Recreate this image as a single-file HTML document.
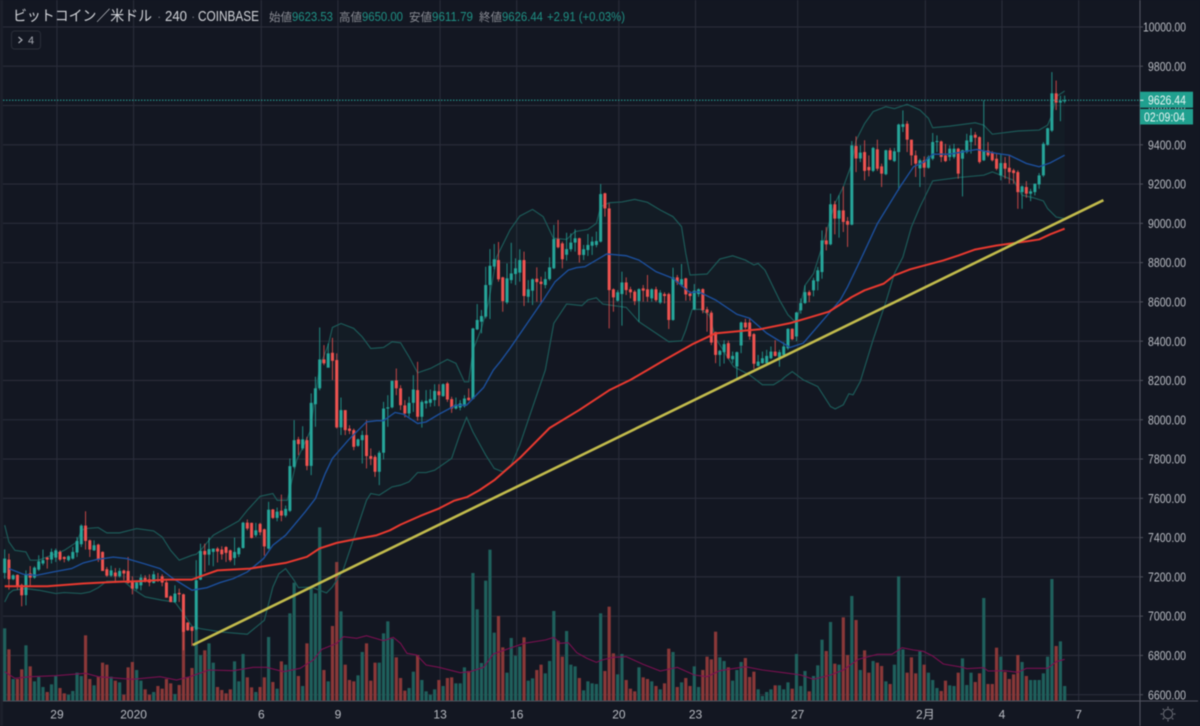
<!DOCTYPE html>
<html lang="ja">
<head>
<meta charset="utf-8">
<title>ビットコイン／米ドル 240 COINBASE</title>
<style>
html,body{margin:0;padding:0;background:#131722;width:1200px;height:726px;overflow:hidden}
svg{display:block;filter:blur(.4px)}
text{font-family:"Liberation Sans","Noto Sans CJK JP",sans-serif}
</style>
</head>
<body>
<svg id="chart" xmlns="http://www.w3.org/2000/svg" width="1200" height="726" viewBox="0 0 1200 726">
<rect x="0" y="0" width="1200" height="726" fill="#131722"/>
<rect x="0" y="0" width="3" height="726" fill="#1c202b"/>
<g id="grid"></g>
<g id="volumes"></g>
<g id="bands"></g>
<g id="candles"></g>
<g id="lines"></g>
<g id="axes"></g>
<g>
<text x="13" y="21" font-size="14.5" fill="#d2d4d9" textLength="139" lengthAdjust="spacingAndGlyphs">ビットコイン／米ドル</text>
<text x="157" y="21" font-size="13" fill="#6d7079">·</text>
<text x="165" y="21" font-size="14.5" fill="#d2d4d9" textLength="22" lengthAdjust="spacingAndGlyphs">240</text>
<text x="191" y="21" font-size="13" fill="#6d7079">·</text>
<text x="198" y="21" font-size="14.5" fill="#d2d4d9" textLength="61" lengthAdjust="spacingAndGlyphs">COINBASE</text>
<text x="269" y="21" font-size="11.5" fill="#8b8d95">始値</text>
<text x="292" y="21" font-size="13" fill="#1f9084" textLength="41" lengthAdjust="spacingAndGlyphs">9623.53</text>
<text x="339" y="21" font-size="11.5" fill="#8b8d95">高値</text>
<text x="362" y="21" font-size="13" fill="#1f9084" textLength="41" lengthAdjust="spacingAndGlyphs">9650.00</text>
<text x="409" y="21" font-size="11.5" fill="#8b8d95">安値</text>
<text x="432" y="21" font-size="13" fill="#1f9084" textLength="41" lengthAdjust="spacingAndGlyphs">9611.79</text>
<text x="479" y="21" font-size="11.5" fill="#8b8d95">終値</text>
<text x="502" y="21" font-size="13" fill="#1f9084" textLength="41" lengthAdjust="spacingAndGlyphs">9626.44</text>
<text x="547" y="21" font-size="13" fill="#1f9084" textLength="78" lengthAdjust="spacingAndGlyphs">+2.91 (+0.03%)</text>
</g>
<g>
<rect x="11.5" y="31" width="29" height="18" rx="3" fill="#131722" stroke="#2a2e39"/>
<path d="M18.5 37l3.5 3-3.5 3" fill="none" stroke="#a8abb3" stroke-width="1.2"/>
<text x="28" y="44" font-size="11" fill="#a8abb3">4</text>
</g>
<g stroke="#62656e" fill="none" stroke-width="1.2">
<circle cx="1168" cy="714" r="4.6"/>
<path d="M1168 706.5v2M1168 719.5v2M1160.5 714h2M1173.5 714h2M1162.7 708.7l1.4 1.4M1171.9 717.9l1.4 1.4M1162.7 719.3l1.4-1.4M1171.9 710.1l1.4-1.4"/>
</g>
</svg>
<script>
// ---- chart data ----
var opens = [
7220,7288,7188,7210,7159,7107,7218,7196,7237,7268,
7298,7288,7298,7327,7301,7285,7293,7324,7366,7461,
7386,7335,7364,7327,7239,7206,7222,7203,7232,7230,
7178,7140,7157,7195,7188,7169,7188,7203,7172,7101,
7072,7118,7111,6967,6945,6932,7186,7332,7313,7327,
7344,7339,7352,7335,7296,7315,7347,7476,7475,7412,
7470,7442,7344,7543,7500,7537,7512,7536,7760,7900,
7854,7896,7765,8079,8160,8307,8265,8341,8304,7961,
8049,7955,7947,7867,7896,7922,7815,7811,7735,7832,
8057,8063,8200,8160,8073,8032,8086,8151,8015,8083,
8086,8100,8145,8120,8185,8105,8057,8062,8069,8112,
8106,8460,8499,8525,8686,8780,8813,8725,8597,8711,
8742,8749,8813,8626,8657,8718,8703,8686,8716,8771,
8920,8898,8840,8868,8902,8924,8839,8864,8886,8890,
8907,9153,9076,8664,8606,8640,8699,8664,8652,8604,
8669,8664,8618,8664,8596,8640,8640,8508,8725,8686,
8720,8643,8562,8640,8665,8562,8545,8446,8330,8344,
8390,8308,8271,8378,8495,8495,8436,8274,8288,8288,
8313,8347,8318,8330,8364,8463,8424,8557,8594,8650,
8659,8705,8752,8913,8893,9097,9024,9066,9012,8993,
9394,9330,9363,9287,9267,9377,9290,9250,9372,9317,
9363,9491,9507,9426,9346,9280,9321,9283,9329,9414,
9417,9346,9338,9338,9380,9329,9363,9414,9451,9439,
9321,9371,9360,9329,9244,9307,9283,9270,9261,9159,
9185,9151,9159,9198,9244,9400,9472,9662,9615,9623.53];
var highs = [
7340,7318,7213,7213,7165,7233,7255,7254,7310,7339,
7302,7344,7344,7335,7305,7310,7352,7403,7468,7534,
7390,7386,7369,7330,7250,7257,7245,7245,7237,7301,
7203,7179,7213,7208,7213,7230,7220,7213,7183,7106,
7157,7140,7115,6970,6948,7285,7369,7369,7400,7344,
7352,7356,7356,7339,7400,7352,7480,7492,7476,7475,
7475,7446,7582,7546,7553,7619,7563,7803,7998,7913,
7967,7913,8134,8219,8470,8380,8388,8417,8338,8113,
8049,7972,7955,7904,7944,7998,7854,7820,7842,8091,
8125,8200,8261,8176,8100,8117,8227,8295,8100,8151,
8154,8181,8181,8185,8193,8117,8113,8100,8125,8159,
8468,8589,8559,8779,8869,8895,8905,8728,8796,8901,
8822,8868,8856,8711,8720,8776,8728,8754,8827,8992,
9017,8907,8952,8949,8970,8927,8890,8946,8932,8958,
9200,9156,9102,8669,8660,8754,8725,8677,8660,8669,
8686,8737,8669,8677,8660,8649,8647,8774,8737,8793,
8723,8655,8691,8669,8669,8575,8555,8449,8356,8405,
8403,8347,8347,8500,8514,8514,8441,8330,8347,8356,
8373,8405,8356,8395,8466,8466,8550,8618,8684,8659,
8723,8778,8964,8981,9151,9114,9143,9188,9032,9419,
9443,9397,9423,9346,9389,9426,9304,9375,9384,9384,
9508,9575,9521,9426,9371,9329,9341,9346,9460,9448,
9422,9405,9397,9405,9385,9375,9456,9485,9465,9443,
9626,9414,9368,9354,9354,9338,9346,9278,9270,9193,
9215,9176,9202,9256,9414,9487,9770,9727,9650,9650];
var lows = [
7190,7135,7183,7135,7050,7055,7150,7190,7230,7259,
7242,7268,7276,7281,7274,7278,7288,7301,7352,7339,
7301,7332,7276,7230,7200,7200,7169,7196,7183,7166,
7111,7132,7132,7171,7152,7166,7174,7152,7094,7070,
7067,7072,6826,6925,6848,6928,7183,7225,7259,7254,
7273,7288,7276,7276,7259,7301,7344,7437,7395,7403,
7412,7308,7339,7495,7483,7483,7503,7530,7752,7820,
7845,7743,7718,7964,8150,8278,8270,8202,7955,7922,
7922,7927,7845,7862,7777,7752,7769,7709,7667,7798,
7964,8058,8125,8049,8012,8015,8040,7995,7960,8057,
8066,8069,8069,8117,8091,8035,8052,8048,8062,8096,
8103,8456,8440,8516,8513,8766,8703,8550,8589,8694,
8686,8703,8579,8596,8584,8601,8596,8669,8708,8767,
8873,8771,8810,8856,8856,8800,8813,8834,8839,8878,
8902,9034,8465,8550,8601,8479,8635,8618,8584,8499,
8601,8601,8601,8601,8589,8592,8462,8504,8686,8677,
8606,8606,8558,8626,8542,8448,8380,8288,8272,8286,
8308,8288,8212,8339,8461,8407,8259,8271,8285,8283,
8308,8322,8270,8325,8356,8405,8400,8540,8590,8599,
8628,8659,8718,8862,8888,8944,8927,8956,8880,8990,
9261,9312,9219,9239,9261,9267,9185,9245,9321,9312,
9168,9465,9363,9295,9236,9185,9236,9278,9321,9363,
9312,9312,9319,9329,9227,9137,9355,9355,9397,9304,
9317,9338,9315,9270,9219,9227,9202,9202,9074,9074,
9130,9113,9142,9176,9236,9395,9465,9577,9520,9611.79];
var closes = [
7293,7188,7208,7152,7106,7213,7196,7247,7279,7285,
7288,7327,7335,7288,7291,7305,7327,7383,7461,7383,
7339,7361,7288,7230,7206,7233,7203,7230,7217,7169,
7140,7172,7196,7178,7171,7213,7183,7171,7094,7072,
7115,7111,6920,6928,6925,7183,7332,7313,7341,7344,
7329,7315,7322,7285,7327,7347,7476,7446,7398,7437,
7427,7355,7542,7500,7532,7512,7546,7764,7896,7876,
7900,7765,8086,8160,8307,8287,8338,8300,7961,8049,
7947,7943,7862,7900,7922,7815,7801,7735,7832,8057,
8063,8198,8160,8074,8032,8086,8154,8015,8091,8096,
8105,8147,8125,8181,8103,8057,8078,8083,8108,8100,
8465,8508,8528,8686,8784,8817,8715,8604,8720,8745,
8771,8813,8630,8664,8715,8701,8691,8716,8776,8920,
8878,8817,8869,8902,8924,8839,8868,8890,8907,8910,
9149,9076,8660,8623,8649,8699,8660,8649,8604,8665,
8657,8626,8664,8609,8647,8630,8508,8725,8699,8716,
8638,8630,8657,8664,8558,8545,8393,8330,8351,8385,
8313,8325,8344,8495,8470,8424,8285,8296,8313,8325,
8347,8325,8344,8373,8463,8410,8546,8594,8650,8633,
8710,8761,8913,8893,9097,9024,9066,9007,8993,9397,
9330,9360,9267,9270,9384,9278,9253,9372,9324,9367,
9503,9505,9426,9346,9304,9321,9283,9337,9414,9419,
9338,9317,9380,9380,9253,9372,9422,9448,9436,9312,
9371,9346,9321,9278,9307,9278,9261,9256,9159,9188,
9151,9163,9202,9244,9405,9484,9662,9615,9623.53,9626.44];
var volumes = [
218,155,66,66,95,167,104,59,72,42,
27,50,75,39,23,19,30,85,75,197,
66,47,73,115,109,73,61,56,19,101,
117,93,61,35,19,27,45,37,66,53,
21,48,268,71,99,215,138,152,173,115,
42,33,23,35,119,59,141,71,41,27,
42,71,192,57,37,119,109,263,355,75,
45,173,343,323,521,93,59,225,417,269,
109,63,59,77,147,173,61,115,115,203,
239,187,131,69,31,39,88,138,63,29,
19,35,63,45,69,71,53,53,101,90,
384,275,114,361,454,205,255,161,85,189,
136,163,191,61,68,93,109,83,120,270,
181,133,210,109,104,69,32,59,53,51,
263,90,283,143,80,141,63,37,29,101,
71,66,59,45,35,53,157,147,42,56,
69,45,104,42,93,133,125,208,131,120,
101,61,93,117,129,72,88,35,15,27,
35,47,47,35,56,37,141,45,90,29,
75,107,184,150,237,112,109,251,138,315,
243,93,152,85,120,115,105,59,51,109,
374,155,85,131,83,149,109,85,63,39,
30,61,47,45,85,128,48,85,57,83,
309,51,51,160,133,87,66,80,138,117,
75,63,63,63,83,133,366,165,179,45];

var upperBars = [0,1,2.4,5,6,8,11,14,17,18,19,22,24,27,31,35,37,39,41,44,45,46,49,55,57,60,63,64,66.4,68.6,71.7,74,76,77,79,82,84,86,89,91,93,95,97,100,104,106,108,109,110,112,113.6,115.6,118.7,121,124,126.5,128.9,132,134,137,139,140,142,145,148,151,154,157,159,160,161,165,168,171,174,176,177,178.6,182,184,186,188,190,192,195,197,199,200,202,204,207,209,212,215,217,218,222,228,230,232,238,243,245,246,247,249];
var upperValues = [7463,7378,7335,7327,7285,7285,7310,7335,7378,7437,7446,7451,7424,7424,7446,7434,7403,7335,7285,7310,7315,7335,7412,7485,7539,7610,7624,7590,7590,7794,7938,8270,8380,8470,8490,8465,8422,8363,8368,8397,8392,8320,8239,8261,8307,8287,8193,8193,8354,8465,8592,8830,8966,9037,9071,9034,8924,8918,8958,8969,9000,9085,9105,9109,9122,9107,9068,9034,8983,8847,8737,8742,8818,8835,8813,8788,8796,8762,8610,8534,8492,8684,8744,8880,9100,9185,9304,9423,9508,9569,9594,9584,9606,9577,9535,9487,9495,9512,9500,9454,9470,9475,9500,9552,9645,9674];
var lowerBars = [0,1,2,5,8,12,14,18,20,22,24,28,30,33,37,40,42,44,46,51,57,61,63,64.4,66,68,69,72,75.6,77,79.5,82,85,86,88,91,93,95,97,99,101,105,107,108.5,110,113,115,117,119,121,123,125,127,129,132,135.6,137,139,140.5,146,149,152.5,156,159,160,161.5,163.5,165.5,167,169,171.2,175,178,180.6,182.5,183.4,185,187.6,191,194,195.1,197,198.3,199.3,201,204,207,209,211,213,215,218,224,230,232,235,237,239,241.5,244,245,247,249];
var lowerValues = [7072,7115,7132,7140,7132,7115,7120,7115,7123,7145,7178,7178,7140,7098,7081,7072,7013,6948,6936,6919,6908,6979,7148,7216,7242,7182,7145,7148,7118,7149,7234,7395,7590,7624,7616,7658,7667,7684,7731,7731,7743,7803,7930,8012,7938,7820,7752,7735,7770,7871,7999,8126,8253,8491,8589,8581,8610,8621,8589,8572,8499,8448,8397,8402,8457,8562,8562,8533,8415,8347,8271,8228,8178,8178,8203,8220,8245,8203,8169,8067,8055,8076,8132,8127,8195,8407,8599,8744,8828,8981,9083,9216,9233,9245,9262,9236,9219,9143,9131,9114,9075,9032,9024];
var basisBars = [1,4.4,7.5,11.4,15.7,18.5,21.6,25.5,28.6,32.6,36.5,39.6,44,47.5,50.6,53.7,57,60.8,63,66,70.6,73,75.3,77,80.7,85,87.4,89,91.7,93.7,97,99,102,106,108.5,112.5,114.8,116.5,118.7,123,126.5,129.3,132.4,134.3,136.3,139,141.4,146,149,153,157,161,163,167,172,175,179,184.5,187.6,193,196.3,198,201,205,210.3,213.5,216,218,222,228.3,233,236,240,243,245.6,249];
var basisValues = [7242,7213,7208,7225,7242,7271,7288,7301,7293,7268,7242,7191,7132,7145,7171,7191,7225,7293,7361,7412,7531,7599,7726,7803,7896,7989,7995,7995,8037,8028,7981,7989,8028,8074,8074,8164,8253,8298,8363,8499,8609,8703,8762,8774,8779,8813,8844,8835,8813,8754,8720,8647,8652,8610,8537,8517,8441,8368,8390,8526,8610,8676,8812,8998,9185,9288,9313,9352,9352,9376,9356,9347,9305,9288,9308,9347];
var slowMaBars = [0,10,18.5,25.5,32.6,38,44,46.7,50,57.6,61.5,66,71,74,78,82,87.4,90.5,93,97.6,102,105.5,108.7,111.5,115,121,128,135,142,147,151,155,161.5,167,173.5,177.5,184.5,188.5,193.7,199,202,206.5,209,212.7,220.5,224,228,233,240,243,245.6,249];
var slowMaValues = [7152,7152,7166,7174,7179,7186,7186,7208,7233,7242,7256,7271,7302,7345,7373,7390,7412,7437,7466,7510,7548,7587,7607,7641,7692,7805,7958,8050,8150,8203,8253,8304,8384,8440,8453,8461,8492,8517,8551,8625,8659,8693,8735,8766,8811,8836,8867,8887,8908,8918,8944,8973];
var volumeMaBars = [0,2.4,6,12,19,22,30,36.5,40.4,43.5,48,53.7,58.4,61.5,65.5,69.4,72.5,74.5,78,79.6,82.7,85,89,91.3,93,94.5,96.8,99,102,107,109.3,112.5,114.8,117,122,127,129,130.5,132.4,134.4,136.8,139,140.3,143,146,150,154,158,162,165,168,174,178,183,187,190,194,197,200.5,205,208.4,210.8,213.5,215.8,218,220.5,225,226,230,231,235,238,240,245,247,249];
var volumeMaValues = [88,68,73,76,83,73,65,73,63,73,93,91,101,101,88,98,123,155,173,193,188,196,181,191,173,143,138,108,101,85,88,101,141,151,173,183,191,173,175,145,128,116,123,131,133,110,90,101,78,73,91,103,93,85,78,65,78,93,125,140,140,160,153,149,135,111,101,97,100,90,91,86,98,98,118,125];
var trendBars = [44.2,258.1];
var trendValues = [6853,9118];
var priceTicks = [10000,9800,9600,9400,9200,9000,8800,8600,8400,8200,8000,7800,7600,7400,7200,7000,6800,6600];
var timeBars = [12,30,60,78,102,120,144,162,186,216,234,252];
var timeLabels = ['29','2020','6','9','13','16','20','23','27','2月','4','7'];
var lastPrice = 9626.44;

// ---- axis functions ----
var SVG_NS = 'http://www.w3.org/2000/svg';
function barX(i){ return 4.67 + 4.257 * i; }
function gridX(i){ return barX(i) + 1.2; }
function priceY(p){ return 694.7 - (p - 6600) * 0.1964; }
function volumeH(v){ return v / 3; }
var BASE_Y = 701;
var AXIS_X = 1140;
var UP = '#26a69a', DOWN = '#ef5350';

function make(parent, tag, attrs, text){
  var el = document.createElementNS(SVG_NS, tag);
  for (var k in attrs) el.setAttribute(k, attrs[k]);
  if (text !== undefined) el.textContent = text;
  parent.appendChild(el);
  return el;
}
function pathFrom(bars, values, xf, yf){
  var d = '';
  for (var i = 0; i < bars.length; i++) {
    d += (i ? 'L' : 'M') + xf(bars[i]).toFixed(2) + ' ' + yf(values[i]).toFixed(2);
  }
  return d;
}

// grid
var gridG = document.getElementById('grid');
priceTicks.forEach(function(p){
  var el = make(gridG, 'line', {x1:3, x2:AXIS_X, y1:priceY(p), y2:priceY(p), stroke:'#2a2d3a', 'stroke-width':1.1});
  
  
});
timeBars.forEach(function(b){
  var el = make(gridG, 'line', {x1:gridX(b), x2:gridX(b), y1:0, y2:BASE_Y, stroke:'#2a2d3a', 'stroke-width':1.1});
  
  
});

// volume bars
var volG = document.getElementById('volumes');
volumes.forEach(function(v, i){
  var up = closes[i] >= opens[i];
  var h = volumeH(v);
  var el = make(volG, 'rect', {x:barX(i) - 1.6, y:BASE_Y - h, width:3.2, height:h, fill: up ? '#1f605c' : '#8a3838'});
  
  
});
var volMa = make(volG, 'path', {d:pathFrom(volumeMaBars, volumeMaValues, barX, function(v){ return BASE_Y - volumeH(v); }), fill:'none', stroke:'#7a0f50', 'stroke-width':1.1});



// bollinger bands
var bandG = document.getElementById('bands');
var upperD = pathFrom(upperBars, upperValues, barX, priceY);
var lowerRev = pathFrom(lowerBars.slice().reverse(), lowerValues.slice().reverse(), barX, priceY);
var bandFill = make(bandG, 'path', {d:upperD + 'L' + lowerRev.slice(1) + 'Z', fill:'#26a69a', 'fill-opacity':0.035, stroke:'none'});


var upperLine = make(bandG, 'path', {d:upperD, fill:'none', stroke:'#1c5a58', 'stroke-width':1.2});


var lowerLine = make(bandG, 'path', {d:pathFrom(lowerBars, lowerValues, barX, priceY), fill:'none', stroke:'#1c5a58', 'stroke-width':1.2});



// candles
var candleG = document.getElementById('candles');
opens.forEach(function(o, i){
  var c = closes[i];
  var col = c >= o ? UP : DOWN;
  var cx = barX(i);
  var wick = make(candleG, 'line', {x1:cx, x2:cx, y1:priceY(highs[i]), y2:priceY(lows[i]), stroke:col, 'stroke-width':1, 'stroke-opacity':0.8});
  
  
  var top = priceY(Math.max(o, c));
  var h = Math.max(1, Math.abs(priceY(o) - priceY(c)));
  var body = make(candleG, 'rect', {x:cx - 1.5, y:top, width:3, height:h, fill:col});
  
  
});

// indicator lines
var lineG = document.getElementById('lines');
var basisLine = make(lineG, 'path', {d:pathFrom(basisBars, basisValues, barX, priceY), fill:'none', stroke:'#1c4f9c', 'stroke-width':1.4});


var slowLine = make(lineG, 'path', {d:pathFrom(slowMaBars, slowMaValues, barX, priceY), fill:'none', stroke:'#e8392f', 'stroke-width':2, 'stroke-linejoin':'round'});


var trendLine = make(lineG, 'path', {d:pathFrom(trendBars, trendValues, barX, priceY), fill:'none', stroke:'#c2bb4c', 'stroke-width':2.6});


var lastLine = make(lineG, 'line', {x1:3, x2:AXIS_X, y1:priceY(lastPrice), y2:priceY(lastPrice), stroke:'#26a69a', 'stroke-width':1, 'stroke-dasharray':'1.5 1.5'});



// axes
var axesG = document.getElementById('axes');
var yAxisLine = make(axesG, 'line', {x1:AXIS_X, x2:AXIS_X, y1:0, y2:726, stroke:'#50535e', 'stroke-width':1.1});


var xAxisLine = make(axesG, 'line', {x1:3, x2:1198, y1:BASE_Y, y2:BASE_Y, stroke:'#50535e', 'stroke-width':1.1});


priceTicks.forEach(function(p){
  var tk = make(axesG, 'line', {x1:AXIS_X, x2:AXIS_X + 3, y1:priceY(p), y2:priceY(p), stroke:'#50535e'});
  
  
  var s = p.toFixed(2);
  var w = s.length > 7 ? 43 : 38;
  var t = make(axesG, 'text', {x:1186 - w, y:priceY(p) + 4.6, 'font-size':12.5, fill:'#b8bbc2', textLength:w, lengthAdjust:'spacingAndGlyphs'}, s);
  
  
});
timeBars.forEach(function(b, i){
  var t = make(axesG, 'text', {x:gridX(b), y:718.5, 'font-size':12, fill:'#b8bbc2', 'text-anchor':'middle'}, timeLabels[i]);
  
  
});
var lastBox = make(axesG, 'rect', {x:AXIS_X, y:91.7, width:53, height:16, fill:'#20a08f'});


var lastTick = make(axesG, 'line', {x1:AXIS_X, x2:AXIS_X + 3.5, y1:priceY(lastPrice), y2:priceY(lastPrice), stroke:'#e6f4f2'});


var lastText = make(axesG, 'text', {x:1148, y:104.4, 'font-size':12.5, fill:'#e6f4f2', textLength:38, lengthAdjust:'spacingAndGlyphs'}, lastPrice.toFixed(2));


var timerBox = make(axesG, 'rect', {x:AXIS_X, y:109, width:53, height:15.5, fill:'#20a08f'});


var timerText = make(axesG, 'text', {x:1144, y:121.3, 'font-size':12.5, fill:'#e6f4f2', textLength:41, lengthAdjust:'spacingAndGlyphs'}, '02:09:04');


</script>
</body>
</html>
